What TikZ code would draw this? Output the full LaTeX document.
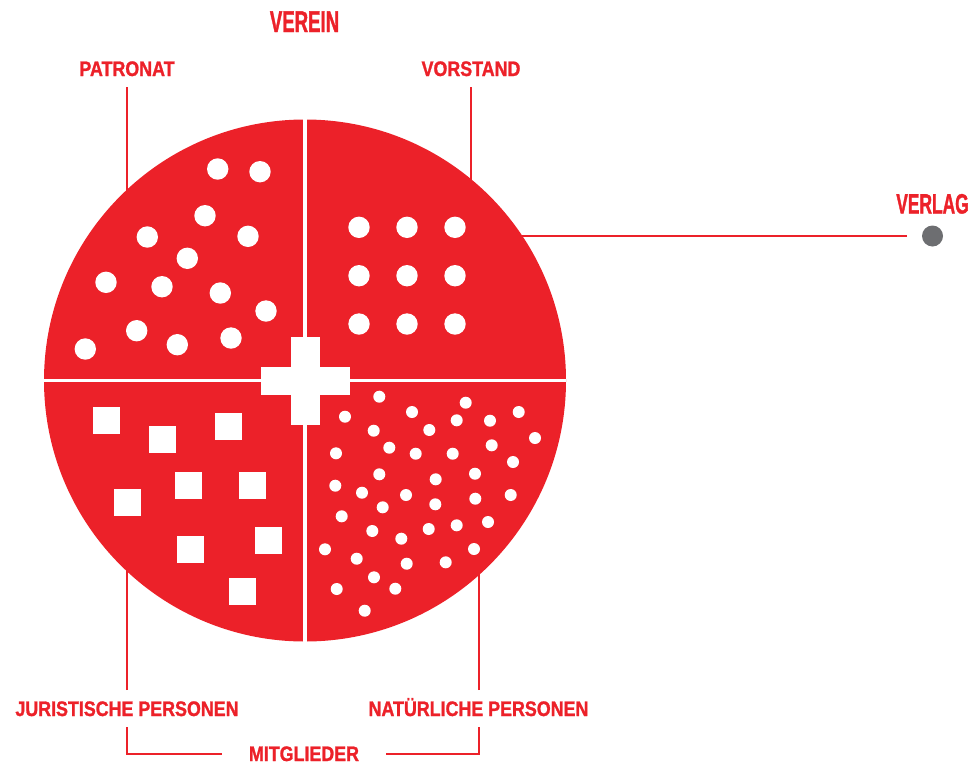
\documentclass[tikz,border=0pt]{standalone}
\usepackage{fontspec}
\setmainfont{Liberation Sans}
\newfontfamily\teilfont{Liberation Sans}[FakeStretch=0.85,BoldFeatures={FakeBold=1.2}]
\newfontfamily\titelfont{Liberation Sans}[FakeStretch=0.62,BoldFeatures={FakeBold=1.2}]
\usepackage{tikz}
\usetikzlibrary{positioning}
\definecolor{vereinrot}{HTML}{EC2129}
\definecolor{verlaggrau}{HTML}{6D6E71}

\begin{document}
\begin{tikzpicture}[x=1pt,y=-1pt,
    teil/.style={text=vereinrot,font=\teilfont\bfseries\fontsize{21}{21}\selectfont,
      inner sep=0pt,text height=15pt,text depth=0pt,outer sep=11pt},
    titel/.style={text=vereinrot,font=\titelfont\bfseries\fontsize{30}{30}\selectfont,
      inner sep=0pt,text height=22pt,text depth=0pt},
    linie/.style={draw=vereinrot,line width=2pt},
    fuge/.style={draw=white,line width=3.5pt}]
    \useasboundingbox (0,0) rectangle (976,766);
    \coordinate (M) at (305,380.5);
    % Beschriftungen
    \node[titel] (verein) at (304.5,21) {VEREIN};
    \node[teil] (patronat) at (127,68.5) {PATRONAT};
    \node[teil] (vorstand) at (471,68.5) {VORSTAND};
    \node[teil] (juristisch) at (127,708.5) {JURISTISCHE PERSONEN};
    \node[teil] (natuerlich) at (478.5,708.5) {NATÜRLICHE PERSONEN};
    \node[teil,outer sep=27pt] (mitglieder) at (304,753.5) {MITGLIEDER};
    \node[circle,fill=verlaggrau,minimum size=21pt,inner sep=0pt,outer sep=15pt] (verlagdot) at (932.5,236) {};
    \node[titel,font=\titelfont\bfseries\fontsize{28}{28}\selectfont,text height=20pt,
      above=-3pt of verlagdot.north,outer sep=0pt] (verlag) {VERLAG};
    % Verbindungen (liegen unter dem Kreis)
    \draw[linie] (patronat) -- (patronat |- M);
    \draw[linie] (vorstand) -- (vorstand |- M);
    \draw[linie] (juristisch) -- (juristisch |- M);
    \draw[linie] (natuerlich) -- (natuerlich |- M);
    \draw[linie] (verlagdot) -- (verlagdot -| M);
    \draw[linie] (juristisch) |- (mitglieder);
    \draw[linie] (natuerlich) |- (mitglieder);
    % Kreis
    \node[circle,fill=vereinrot,minimum size=522pt,inner sep=0pt] (kreis) at (M) {};
    \draw[fuge] (kreis.north) -- (kreis.south);
    \draw[fuge] (kreis.west) -- (kreis.east);
    \fill[white,draw=white,line width=3pt] (262,368) rectangle (348,393);
    \fill[white,draw=white,line width=3pt] (292,338) rectangle (318,423);
    % Patronat
    \foreach \x/\y in {217.7/169,260/171.7,205/215.7,147.3/237,248/236.3,187.3/258.3,
      106/282.3,162/286.7,220.3/293,266/311,136.7/330.7,177.3/344.7,231/338,85.3/349}
      \fill[white] (\x,\y) circle[radius=10.7];
    % Vorstand
    \foreach \x in {359,407,455}
      \foreach \y in {227.3,275.7,324}
        \fill[white] (\x,\y) circle[radius=10.7];
    % juristische Personen
    \foreach \x/\y in {106.5/420.3,162.5/439.3,228.5/426.3,188.5/485.3,252.5/485.3,
      127.5/502.3,190.5/549.3,268.5/540.3,242.5/591.3}
      \fill[white] (\x-13.5,\y-13.5) rectangle ++(27,27);
    % natuerliche Personen
    \foreach \x/\y in {379.3/396.7,465.7/402.7,518.7/412,345/416.7,412/412,456.7/420.3,
      490/420.7,373.7/430.7,429.3/430,535/438,336/453.3,389.3/447.7,415.7/453.7,
      452.7/453.7,491.7/445.3,513/462,379.3/474.3,475/473.7,435.7/479.3,335.3/485.7,
      362/492.7,406/495,475.3/498.7,510.7/495,382.7/507.3,435.3/504.3,341.7/516.3,
      372.3/531,428.7/529,456.7/525.3,488/522,401.3/538.7,325/549.3,356.7/558.7,
      474/549,406.7/563.7,445.7/562.3,374/577.3,336.7/589,395.3/588.7,364.7/610.7}
      \fill[white] (\x,\y) circle[radius=6];
\end{tikzpicture}
\end{document}
